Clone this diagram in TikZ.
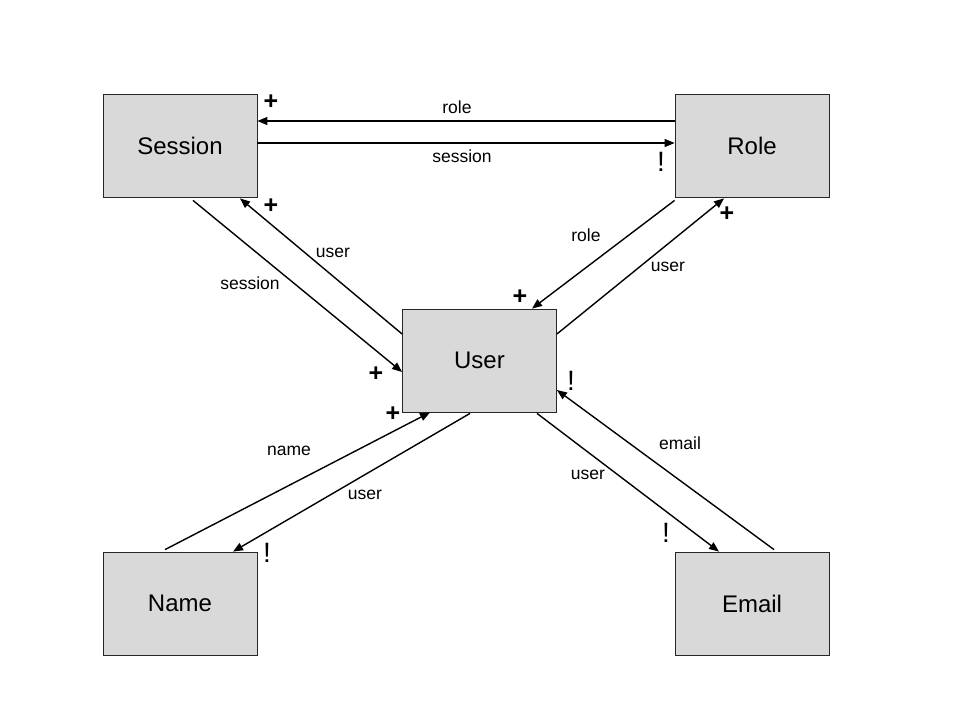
\documentclass[tikz,border=0pt]{standalone}
\usepackage{fontspec}
\setmainfont{Liberation Sans}
\usetikzlibrary{arrows.meta}
\begin{document}
\begin{tikzpicture}[x=1pt,y=-1pt,
  entity/.style={draw=black!85,fill=black!15,line width=0.8pt,minimum width=154pt,minimum height=103pt,inner sep=0pt,font=\fontsize{24}{28}\selectfont},
  conn/.style={line width=1.4pt,-{Triangle[length=10pt,width=8pt]}},
  lbl/.style={inner sep=0pt,font=\fontsize{17.5}{20}\selectfont},
  plusmark/.style={inner sep=0pt,font=\fontsize{25}{30}\selectfont\bfseries},
  bangmark/.style={inner sep=0pt,font=\fontsize{28}{32}\selectfont}]
\useasboundingbox (0,0) rectangle (960,720);
\node[entity] (Session) at (180,145.5) {Session};
\node[entity] (Role) at (752,145.5) {Role};
\node[entity] (User) at (479.5,360.5) {User};
\node[entity] (Name) at (180,603.5) {Name};
\node[entity] (Email) at (752,603.5) {Email};
% connectors
\draw[conn] ([yshift=24.5pt]Role.west) -- ([yshift=24.5pt]Session.east);
\draw[conn] ([yshift=2.5pt]Session.east) -- ([yshift=2.5pt]Role.west);
\draw[conn] ([yshift=26.5pt]User.west) -- ([xshift=60pt,yshift=-1pt]Session.south);
\draw[conn] ([xshift=13pt,yshift=-3pt]Session.south) -- ([yshift=-11.5pt]User.west);
\draw[conn] ([yshift=-3pt]Role.south west) -- ([xshift=52.5pt]User.north);
\draw[conn] ([yshift=26.5pt]User.east) -- ([xshift=-28pt,yshift=-1pt]Role.south);
\draw[conn] ([xshift=-15pt,yshift=2pt]Name.north) -- ([xshift=-49.5pt]User.south);
\draw[conn] ([xshift=-9.5pt,yshift=-1pt]User.south) -- ([xshift=53pt]Name.north);
\draw[conn] ([xshift=57.5pt,yshift=-1pt]User.south) -- ([xshift=-33pt]Email.north);
\draw[conn] ([xshift=22pt,yshift=2pt]Email.north) -- ([yshift=-29.5pt]User.east);
% labels
\node[lbl] (l1) at (457,107) {role};
\node[lbl] (l2) at (462,156) {session};
\node[lbl] (l3) at (333,253) {user};
\node[lbl] (l4) at (250,283) {session};
\node[lbl] (l5) at (586,235) {role};
\node[lbl] (l6) at (668,267) {user};
\node[lbl] (l7) at (289,451) {name};
\node[lbl] (l8) at (365,495) {user};
\node[lbl] (l9) at (588,475) {user};
\node[lbl] (l10) at (680,443) {email};
% multiplicity marks
\node[plusmark] (m1) at (271,102) {+};
\node[bangmark] (m2) at (661,162) {!};
\node[plusmark] (m3) at (271,206) {+};
\node[plusmark] (m4) at (376,374) {+};
\node[plusmark] (m5) at (520,297) {+};
\node[plusmark] (m6) at (727,214) {+};
\node[plusmark] (m7) at (393,414) {+};
\node[bangmark] (m8) at (267,553) {!};
\node[bangmark] (m9) at (666,533) {!};
\node[bangmark] (m10) at (571,381) {!};
\end{tikzpicture}
\end{document}
